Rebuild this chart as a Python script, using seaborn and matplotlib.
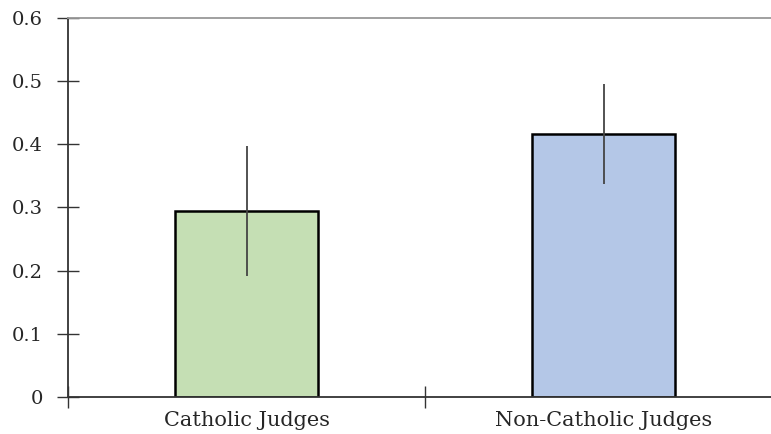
import numpy as np
import pandas as pd
import seaborn as sns
import matplotlib.pyplot as plt
from matplotlib.ticker import FixedLocator

# Values
groups = ["Catholic Judges", "Non-Catholic Judges"]
means = [0.295, 0.416]
ci_low = [0.192, 0.337]
ci_high = [0.398, 0.495]
bar_colors = ["#C5DFB4", "#B4C7E7"]
ytick_labels = ["0", "0.1", "0.2", "0.3", "0.4", "0.5", "0.6"]

df = pd.DataFrame({"group": groups, "mean": means})

sns.set_style("white")
plt.rcParams["font.family"] = ["DejaVu Serif"]

fig = plt.figure(figsize=(7.71, 4.34), dpi=100)
ax = fig.add_axes([68 / 771, 37 / 434, 714 / 771, 379 / 434])

sns.barplot(data=df, x="group", y="mean", hue="group", palette=bar_colors,
            saturation=1, errorbar=None, width=0.4, edgecolor="black",
            linewidth=1.8, legend=False, ax=ax)

x = np.arange(len(groups))
err = [np.array(means) - np.array(ci_low), np.array(ci_high) - np.array(means)]
ax.errorbar(x, means, yerr=err, fmt="none", ecolor="#444444", elinewidth=1.3, capsize=0)

ax.set_xlim(-0.5, 1.5)
ax.set_ylim(0, 0.6)
ax.set_yticks(np.arange(0, 0.61, 0.1))
ax.set_yticklabels(ytick_labels)
ax.xaxis.set_minor_locator(FixedLocator([-0.5, 0.5, 1.5]))
ax.tick_params(axis="x", which="major", length=0, pad=10, labelsize=15)
ax.tick_params(axis="x", which="minor", bottom=True, direction="inout",
               length=16, width=1, color="#333333")
ax.tick_params(axis="y", direction="inout", length=16, width=1, color="#333333",
               pad=10, labelsize=14, left=True)
ax.set_xlabel("")
ax.set_ylabel("")

for side in ["left", "bottom"]:
    ax.spines[side].set_color("#333333")
    ax.spines[side].set_linewidth(1.3)
ax.spines["top"].set_color("#999999")
ax.spines["top"].set_linewidth(1.3)
ax.spines["right"].set_visible(False)

fig.savefig("out.png", dpi=100)
